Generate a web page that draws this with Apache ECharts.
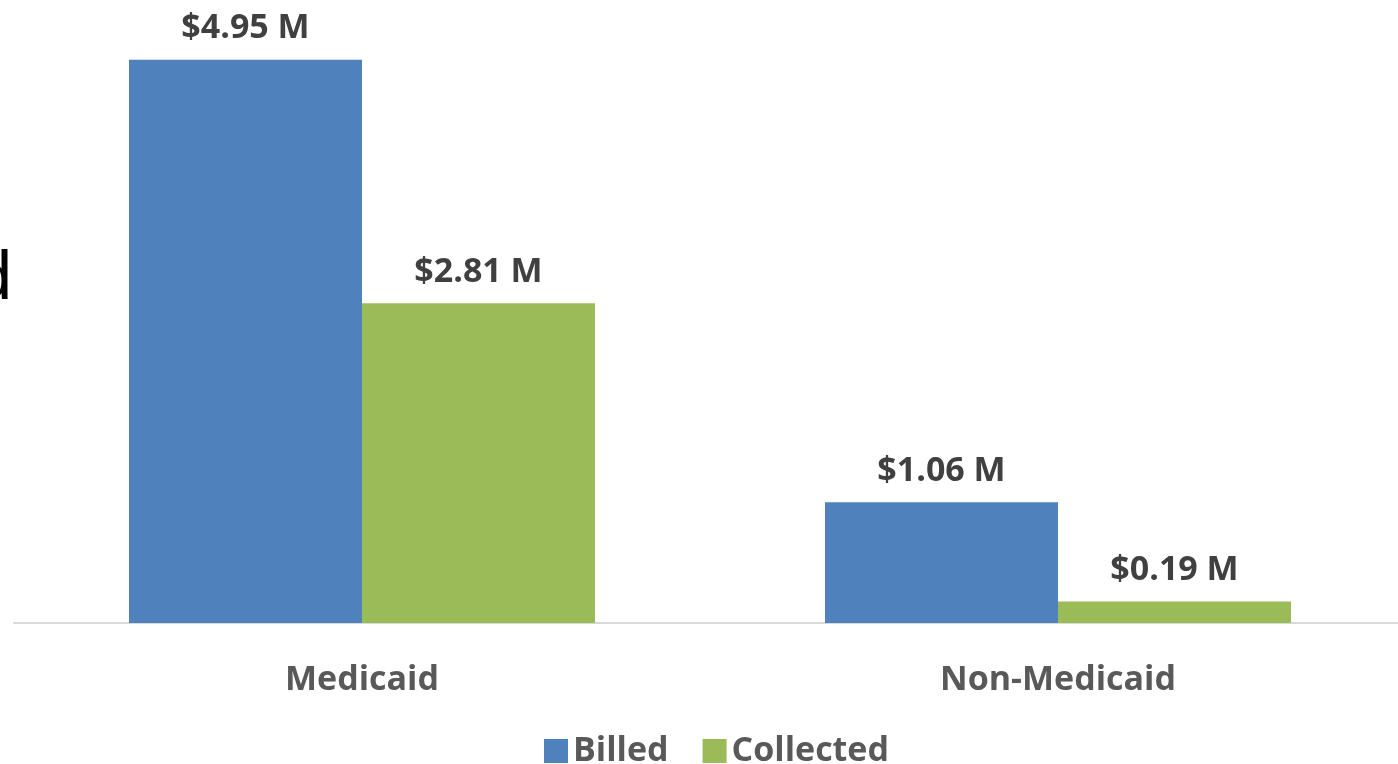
<!DOCTYPE html>
<html>
<head>
<meta charset="utf-8">
<script src="https://cdn.jsdelivr.net/npm/echarts@6/dist/echarts.min.js"></script>
<style>
  html, body { margin: 0; padding: 0; background: #fff; }
  #chart { width: 1398px; height: 764px; }
</style>
</head>
<body>
<div id="chart"></div>
<script>
const categories = ["Medicaid", "Non-Medicaid"];
const billed = [4.95, 1.06];
const collected = [2.81, 0.19];

const chart = echarts.init(document.getElementById("chart"));

const labelStyle = {
  show: true,
  position: "top",
  distance: 14,
  fontFamily: "Open Sans",
  fontWeight: "bold",
  fontSize: 34,
  color: "#404040",
  formatter: (p) => "$" + p.value.toFixed(2) + " M",
};

chart.setOption({
  animation: false,
  grid: { left: 14, right: -8, top: 54, bottom: 141, outerBoundsMode: "none", containLabel: false },
  legend: {
    data: ["Billed", "Collected"],
    top: 729,
    left: 539,
    icon: "rect",
    itemWidth: 24,
    itemHeight: 24,
    itemGap: 34,
    textStyle: { fontFamily: "Open Sans", fontWeight: "bold", fontSize: 34, color: "#595959" },
  },
  graphic: [
    {
      type: "text",
      right: 1386,
      top: 246,
      style: { text: "d", fontFamily: "Liberation Sans", fontSize: 68, fill: "#000" },
    },
  ],
  xAxis: {
    type: "category",
    data: categories,
    axisTick: { show: false },
    axisLine: { show: true, lineStyle: { color: "#d9d9d9", width: 2 } },
    axisLabel: { margin: 40, fontFamily: "Open Sans", fontWeight: "bold", fontSize: 34, color: "#595959" },
  },
  yAxis: {
    type: "value",
    min: 0,
    max: 5,
    show: false,
    splitLine: { show: false },
  },
  series: [
    {
      name: "Billed",
      type: "bar",
      data: billed,
      barWidth: 233,
      barGap: "0%",
      itemStyle: { color: "#4F81BD" },
      label: labelStyle,
    },
    {
      name: "Collected",
      type: "bar",
      data: collected,
      barWidth: 233,
      itemStyle: { color: "#9BBB59" },
      label: labelStyle,
    },
  ],
});
</script>
</body>
</html>
